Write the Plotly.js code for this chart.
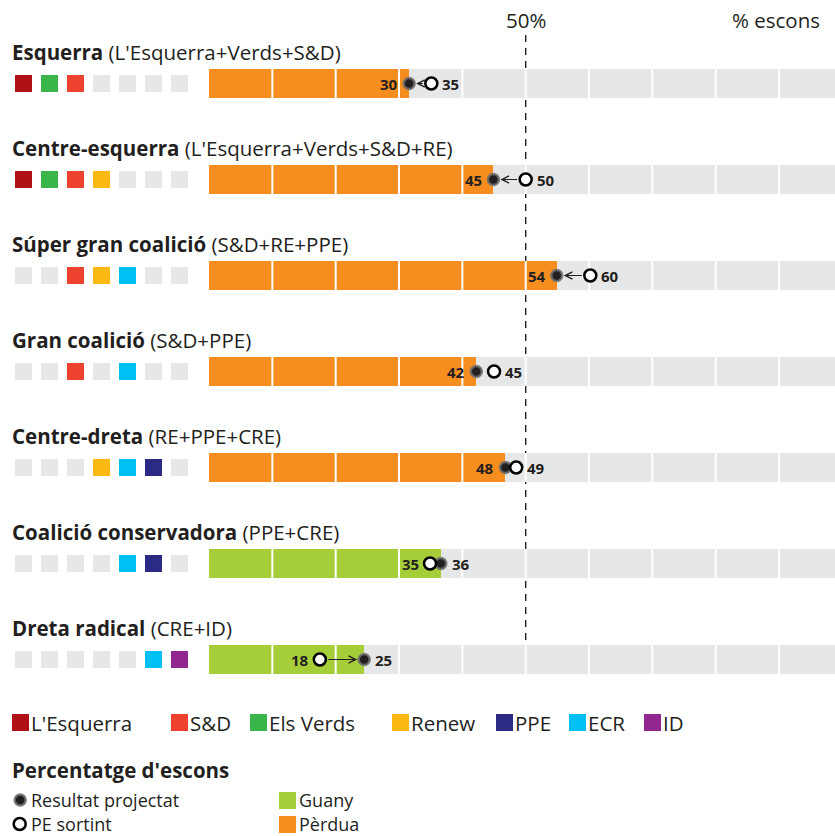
<!DOCTYPE html>
<html>
<head>
<meta charset="utf-8">
<script src="https://cdn.plot.ly/plotly-3.0.1.min.js"></script>
<style>
html,body{margin:0;padding:0;background:#fff;}
#chart{width:835px;height:836px;}
</style>
</head>
<body>
<div id="chart"></div>
<script>
// ---------------- DATA ----------------
const coalitions = ["Esquerra", "Centre-esquerra", "Súper gran coalició", "Gran coalició", "Centre-dreta", "Coalició conservadora", "Dreta radical"];
const compositions = ["(L'Esquerra+Verds+S&D)", "(L'Esquerra+Verds+S&D+RE)", "(S&D+RE+PPE)", "(S&D+PPE)", "(RE+PPE+CRE)", "(PPE+CRE)", "(CRE+ID)"];
// position (% of seats)
const projected = [31.6, 44.9, 54.9, 42.2, 46.8, 36.6, 24.5];
const outgoing  = [35.1, 50.0, 60.2, 45.0, 48.5, 34.9, 17.5];
// printed labels
const projectedLabels = ["30", "45", "54", "42", "48", "36", "25"];
const outgoingLabels  = ["35", "50", "60", "45", "49", "35", "18"];
// member squares per row (7 slots)
const members = [
  ["LEsq", "Verds", "SD", "", "", "", ""],
  ["LEsq", "Verds", "SD", "Renew", "", "", ""],
  ["", "", "SD", "Renew", "ECR", "", ""],
  ["", "", "SD", "", "ECR", "", ""],
  ["", "", "", "Renew", "ECR", "PPE", ""],
  ["", "", "", "", "ECR", "PPE", ""],
  ["", "", "", "", "", "ECR", "ID"]
];
const partyKeys  = ["LEsq", "SD", "Verds", "Renew", "PPE", "ECR", "ID"];
const partyNames = ["L'Esquerra", "S&D", "Els Verds", "Renew", "PPE", "ECR", "ID"];
const tickValues = [10, 20, 30, 40, 50, 60, 70, 80, 90];

// ---------------- STYLE ----------------
const W = 835, H = 836;
const COLORS = {LEsq:"#B01116", Verds:"#39B54A", SD:"#EF4130", Renew:"#FDB913", ECR:"#00BFF3", PPE:"#2B2A84", ID:"#92278F", "":"#E6E7E8"};
const GRAY = "#E6E7E8", GAIN = "#A6CE39", LOSS = "#F68E1F", INK = "#231F20";
const FONT = "Open Sans, Noto Sans, sans-serif";
const FS = 20.5;
const PXPER = 6.334;               // px per %
const XMAX = (835 - 209) / PXPER;  // axis max
const ROW0 = 83.5, ROWH = 96;      // row centre px, row pitch px
const yTop = (0 - ROW0) / ROWH, yBot = (H - ROW0) / ROWH;
const BARW = 29 / ROWH;

const px = x => x / W;
const py = y => 1 - y / H;
const rows = coalitions.map((_, i) => i);

const traces = [];
// background bars
traces.push({type:"bar", orientation:"h", x:rows.map(() => XMAX), y:rows, width:BARW,
  marker:{color:GRAY, line:{width:0}}, hoverinfo:"skip", xaxis:"x", yaxis:"y"});
// value bars
traces.push({type:"bar", orientation:"h", x:projected, y:rows, width:BARW,
  marker:{color:projected.map((v, i) => v > outgoing[i] ? GAIN : LOSS), line:{width:0}},
  hoverinfo:"skip", xaxis:"x", yaxis:"y"});
// white separators
const gx = [], gy = [];
rows.forEach(i => tickValues.forEach(t => { gx.push(t, t, null); gy.push(i - BARW/2, i + BARW/2, null); }));
traces.push({type:"scatter", mode:"lines", x:gx, y:gy, line:{color:"#fff", width:2}, hoverinfo:"skip"});
// projected dots
traces.push({type:"scatter", mode:"markers", x:projected, y:rows,
  marker:{size:11, color:INK, line:{color:"rgba(110,110,110,0.85)", width:2.5}}, hoverinfo:"skip"});
// outgoing circles
traces.push({type:"scatter", mode:"markers", x:outgoing, y:rows,
  marker:{size:12, color:"#fff", line:{color:"#000", width:2.5}}, hoverinfo:"skip"});
// member squares
const sqx = [], sqy = [], sqc = [];
members.forEach((r, i) => r.forEach((k, j) => { sqx.push(j + 1); sqy.push(i); sqc.push(COLORS[k]); }));
traces.push({type:"scatter", mode:"markers", x:sqx, y:sqy, xaxis:"x2", yaxis:"y",
  marker:{symbol:"square", size:17, color:sqc, line:{width:0}}, hoverinfo:"skip"});

const annotations = [];
const shapes = [];
rows.forEach(i => {
  annotations.push({xref:"paper", yref:"y", x:px(10), y:i - 0.33, xanchor:"left", yanchor:"middle",
    text:"<b>" + coalitions[i] + "</b> " + compositions[i], showarrow:false,
    font:{family:FONT, size:FS, color:INK}});
  const p = projected[i], o = outgoing[i];
  const leftIsP = p <= o;
  annotations.push({xref:"x", yref:"y", x:Math.min(p, o), y:i, xanchor:"right", yanchor:"middle", xshift:-9,
    text:"<b>" + (leftIsP ? projectedLabels[i] : outgoingLabels[i]) + "</b>", showarrow:false,
    font:{family:FONT, size:15, color:INK}});
  annotations.push({xref:"x", yref:"y", x:Math.max(p, o), y:i, xanchor:"left", yanchor:"middle", xshift:9,
    text:"<b>" + (leftIsP ? outgoingLabels[i] : projectedLabels[i]) + "</b>", showarrow:false,
    font:{family:FONT, size:15, color:INK}});
  if (Math.abs(p - o) > 3.2) {
    annotations.push({xref:"x", yref:"y", axref:"x", ayref:"y", x:p, y:i, ax:o, ay:i, text:"",
      showarrow:true, arrowhead:5, arrowsize:1.4, arrowwidth:1, arrowcolor:INK, standoff:7, startstandoff:7});
  }
});

// 50% line
shapes.push({type:"line", xref:"x", yref:"paper", x0:50, x1:50, y0:py(35), y1:py(640), layer:"below",
  line:{color:INK, width:1.4, dash:"7px,6px"}});
annotations.push({xref:"x", yref:"paper", x:50, y:py(20), xanchor:"center", yanchor:"middle", text:"50%",
  showarrow:false, font:{family:FONT, size:FS, color:INK}});
annotations.push({xref:"paper", yref:"paper", x:px(822), y:py(20), xanchor:"right", yanchor:"middle", text:"% escons",
  showarrow:false, font:{family:FONT, size:FS, color:INK}});

// party legend
const legX = [12, 171, 250, 392, 496, 569, 644];
partyKeys.forEach((k, j) => {
  shapes.push({type:"rect", xref:"paper", yref:"paper", x0:px(legX[j]), x1:px(legX[j] + 17), y0:py(714), y1:py(731),
    fillcolor:COLORS[k], line:{width:0}});
  annotations.push({xref:"paper", yref:"paper", x:px(legX[j] + 17), y:py(722.5), xanchor:"left", yanchor:"middle",
    text:partyNames[j], showarrow:false, font:{family:FONT, size:FS, color:INK}});
});
annotations.push({xref:"paper", yref:"paper", x:px(10), y:py(770), xanchor:"left", yanchor:"middle",
  text:"<b>Percentatge d'escons</b>", showarrow:false, font:{family:FONT, size:FS, color:INK}});
// symbol legend
shapes.push({type:"circle", xref:"paper", yref:"paper", x0:px(14.7), x1:px(25.7), y0:py(794.5), y1:py(805.5),
  fillcolor:INK, line:{color:"rgba(110,110,110,0.85)", width:2.5}});
shapes.push({type:"circle", xref:"paper", yref:"paper", x0:px(13.7), x1:px(25.7), y0:py(818), y1:py(830),
  fillcolor:"#fff", line:{color:"#000", width:2.5}});
const smallText = (x, y, t) => ({xref:"paper", yref:"paper", x:px(x), y:py(y), xanchor:"left", yanchor:"middle",
  text:t, showarrow:false, borderpad:0, font:{family:FONT, size:18, color:INK}});
annotations.push(smallText(30, 799.5, "Resultat projectat"));
annotations.push(smallText(30, 824, "PE sortint"));
shapes.push({type:"rect", xref:"paper", yref:"paper", x0:px(279), x1:px(296), y0:py(792), y1:py(809), fillcolor:GAIN, line:{width:0}});
shapes.push({type:"rect", xref:"paper", yref:"paper", x0:px(279), x1:px(296), y0:py(816), y1:py(833), fillcolor:LOSS, line:{width:0}});
annotations.push(smallText(298, 799.5, "Guany"));
annotations.push(smallText(298, 824, "Pèrdua"));

const hidden = {visible:false, showgrid:false, zeroline:false, fixedrange:true};
const layout = {
  width:W, height:H, margin:{l:0, r:0, t:0, b:0}, paper_bgcolor:"#fff", plot_bgcolor:"rgba(0,0,0,0)",
  showlegend:false, barmode:"overlay", bargap:0,
  xaxis:Object.assign({domain:[209/W, 1], range:[0, XMAX]}, hidden),
  xaxis2:Object.assign({domain:[0, 208/W], range:[1 - 23.5/26, 1 + (208 - 23.5)/26], anchor:"y"}, hidden),
  yaxis:Object.assign({domain:[0, 1], range:[yBot, yTop]}, hidden),
  shapes:shapes, annotations:annotations,
  font:{family:FONT, color:INK}
};
Plotly.newPlot("chart", traces, layout, {staticPlot:true, displayModeBar:false});
</script>
</body>
</html>
